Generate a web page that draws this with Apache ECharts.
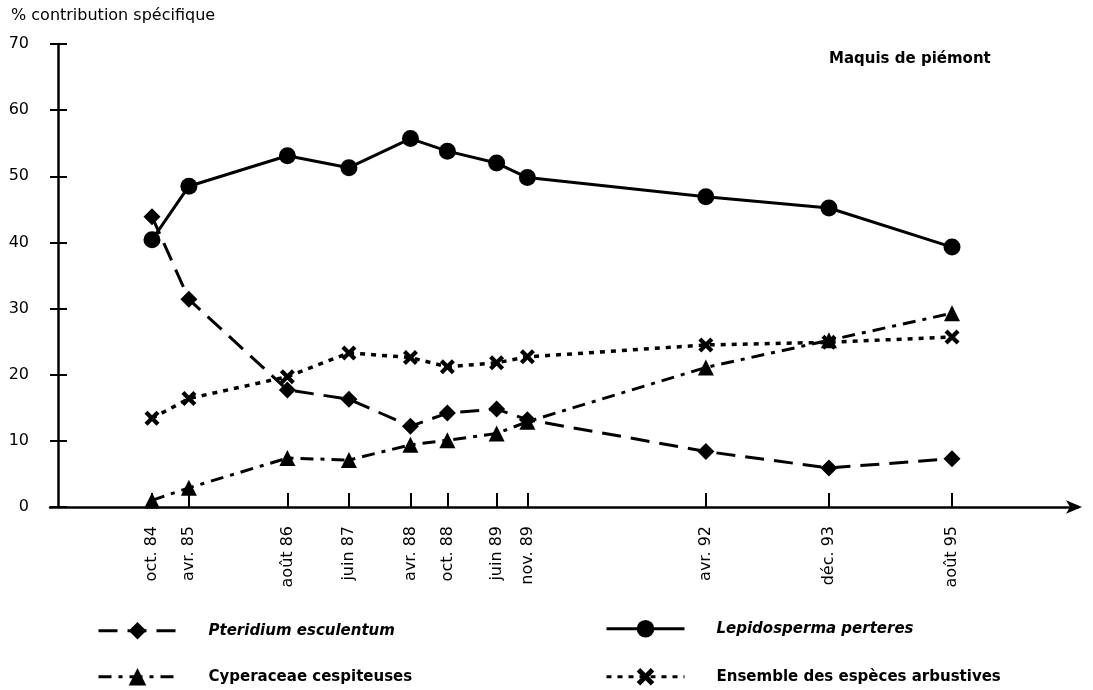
<!DOCTYPE html>
<html><head><meta charset="utf-8">
<script src="https://cdn.jsdelivr.net/npm/echarts@6/dist/echarts.min.js"></script>
<style>html,body{margin:0;padding:0;background:#fff}#c{width:1093px;height:690px}</style>
</head><body><div id="c"></div>
<script>
// Sampling dates (months since October 1984) and their labels
const dateLabels = ['oct. 84','avr. 85','août 86','juin 87','avr. 88','oct. 88','juin 89','nov. 89','avr. 92','déc. 93','août 95'];
const dateMonths = [0, 6, 22, 32, 42, 48, 56, 61, 90, 110, 130];
// % contribution spécifique
const pteridium    = [43.9, 31.4, 17.7, 16.3, 12.2, 14.2, 14.8, 13.2, 8.4, 5.9, 7.3];
const cyperaceae   = [1.0, 2.9, 7.4, 7.1, 9.4, 10.1, 11.1, 12.9, 21.1, 25.2, 29.3];
const lepidosperma = [40.4, 48.5, 53.1, 51.3, 55.7, 53.8, 52.0, 49.8, 46.9, 45.2, 39.3];
const arbustives   = [13.4, 16.4, 19.7, 23.3, 22.6, 21.2, 21.8, 22.7, 24.5, 24.9, 25.7];
const seriesNames = ['Pteridium esculentum','Cyperaceae cespiteuses','Lepidosperma perteres','Ensemble des espèces arbustives'];

const FONT = 'DejaVu Sans';
const xSym = 'path://M2,0 L5,3 L8,0 L10,2 L7,5 L10,8 L8,10 L5,7 L2,10 L0,8 L3,5 L0,2 Z';
const pts = arr => dateMonths.map((m, i) => [m, arr[i]]);

const chart = echarts.init(document.getElementById('c'), null, {renderer: 'canvas'});

function legendAt(name, left, top, italic) {
  return {
    data: [name], left: left, top: top, orient: 'horizontal',
    itemWidth: 78, itemHeight: 22, selectedMode: false,
    lineStyle: {width: 3},
    textStyle: {fontFamily: FONT, fontSize: 15, fontWeight: 'bold', fontStyle: italic ? 'italic' : 'normal', color: '#000', padding: [0, 0, 0, 27]}
  };
}

chart.setOption({
  animation: false,
  backgroundColor: '#fff',
  title: [
    {text: '% contribution spécifique', left: 6, top: 3, textStyle: {fontFamily: FONT, fontSize: 16, fontWeight: 'normal', color: '#000'}},
    {text: 'Maquis de piémont', left: 824, top: 47, textStyle: {fontFamily: FONT, fontSize: 15, fontWeight: 'bold', color: '#000'}}
  ],
  legend: [
    legendAt(seriesNames[0], 92, 617, true),
    legendAt(seriesNames[1], 92, 663, false),
    legendAt(seriesNames[2], 600, 615, true),
    legendAt(seriesNames[3], 600, 663, false)
  ],
  grid: {left: 50, right: 15, top: 44, bottom: 183, containLabel: false},
  xAxis: {
    type: 'value', min: -16.57, max: 150.47,
    splitLine: {show: false},
    axisLine: {show: true, onZero: true, symbol: ['none', 'arrow'], symbolSize: [10, 16], symbolOffset: [0, 4], lineStyle: {color: '#000', width: 2.5}},
    axisTick: {show: true, inside: true, length: 14, customValues: dateMonths, lineStyle: {color: '#000', width: 2}},
    axisLabel: {
      show: true, rotate: 90, margin: 19, customValues: dateMonths,
      fontFamily: FONT, fontSize: 16, color: '#000',
      formatter: v => { const i = dateMonths.indexOf(v); return i >= 0 ? dateLabels[i] : ''; }
    }
  },
  yAxis: [
    {
      type: 'value', min: 0, max: 70, interval: 10, offset: -8,
      splitLine: {show: false},
      axisLine: {show: true, onZero: false, lineStyle: {color: '#000', width: 2.5}},
      axisTick: {show: true, inside: false, length: 8, lineStyle: {color: '#000', width: 2}},
      axisLabel: {margin: 29, fontFamily: FONT, fontSize: 16, color: '#000'}
    },
    {
      type: 'value', min: 0, max: 70, interval: 10, offset: -8, position: 'left',
      splitLine: {show: false},
      axisLine: {show: false, onZero: false},
      axisTick: {show: true, inside: true, length: 9, lineStyle: {color: '#000', width: 2}},
      axisLabel: {show: false}
    }
  ],
  series: [
    {name: seriesNames[0], type: 'line', data: pts(pteridium), symbol: 'diamond', symbolSize: 17,
     lineStyle: {color: '#000', width: 3, type: [19, 10]}, itemStyle: {color: '#000'}, z: 3},
    {name: seriesNames[1], type: 'line', data: pts(cyperaceae), symbol: 'triangle', symbolSize: 16,
     lineStyle: {color: '#000', width: 3, type: [13, 7, 4, 7]}, itemStyle: {color: '#000'}, z: 3},
    {name: seriesNames[2], type: 'line', data: pts(lepidosperma), symbol: 'circle', symbolSize: 17,
     lineStyle: {color: '#000', width: 3, type: 'solid'}, itemStyle: {color: '#000'}, z: 4},
    {name: seriesNames[3], type: 'line', data: pts(arbustives), symbol: xSym, symbolSize: 15,
     lineStyle: {color: '#000', width: 3.5, type: [5, 6]}, itemStyle: {color: '#000'}, z: 3}
  ]
});
</script></body></html>
